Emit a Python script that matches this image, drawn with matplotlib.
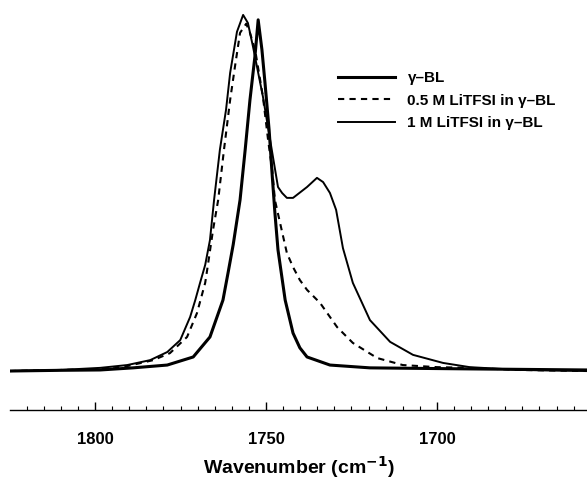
import matplotlib

matplotlib.use("Agg")
import matplotlib.pyplot as plt
from matplotlib.ticker import MultipleLocator

plt.rcParams["font.family"] = ["Liberation Sans", "DejaVu Sans"]

# C=O stretch band, absorbance normalised to the gamma-BL peak
wn_gbl = [1824.9, 1810.2, 1798.5, 1788.9, 1778.9, 1771.3, 1766.4, 1762.6, 1761.1,
          1759.6, 1757.6, 1756.1, 1754.7, 1753.2, 1752.3, 1751.2, 1750.3, 1749.1,
          1748.2, 1747.4, 1746.5, 1744.4, 1742.1, 1740.1, 1738.0, 1731.3, 1719.6,
          1690.4, 1656.1]
a_gbl = [0.0, 0.002, 0.003, 0.009, 0.017, 0.040, 0.097, 0.202, 0.280,
         0.360, 0.487, 0.630, 0.772, 0.900, 1.0, 0.915, 0.820, 0.687,
         0.558, 0.450, 0.345, 0.202, 0.108, 0.066, 0.040, 0.017, 0.009,
         0.006, 0.003]

wn_05m = [1824.9, 1795.6, 1790.6, 1783.0, 1778.1, 1773.1, 1770.2, 1767.8, 1767.0,
          1765.5, 1764.0, 1762.3, 1760.5, 1759.1, 1757.6, 1755.8, 1754.7, 1753.2,
          1750.9, 1749.4, 1748.2, 1747.4, 1745.9, 1743.9, 1742.1, 1740.1, 1738.0,
          1734.2, 1729.2, 1724.6, 1717.5, 1710.0, 1700.0, 1690.4, 1675.7, 1656.1]
a_05m = [0.0, 0.006, 0.014, 0.031, 0.051, 0.097, 0.165, 0.251, 0.302,
         0.402, 0.487, 0.630, 0.772, 0.866, 0.963, 0.989, 0.963, 0.915,
         0.781, 0.658, 0.573, 0.487, 0.422, 0.336, 0.296, 0.259, 0.231,
         0.194, 0.125, 0.080, 0.037, 0.017, 0.011, 0.009, 0.003, 0.0]

wn_1m = [1824.9, 1810.2, 1798.5, 1790.6, 1783.9, 1778.9, 1775.1, 1772.2, 1770.7,
         1769.3, 1767.8, 1766.4, 1765.2, 1763.5, 1761.7, 1760.5, 1758.5, 1756.7,
         1755.3, 1753.8, 1750.9, 1748.8, 1746.5, 1745.3, 1743.9, 1742.1, 1738.0,
         1735.1, 1733.3, 1731.3, 1729.5, 1727.5, 1724.6, 1719.6, 1713.7, 1707.0,
         1698.2, 1690.4, 1675.7, 1656.1]
a_1m = [0.0, 0.003, 0.009, 0.017, 0.031, 0.054, 0.088, 0.154, 0.202,
        0.251, 0.302, 0.373, 0.487, 0.630, 0.744, 0.849, 0.966, 1.014,
        0.991, 0.923, 0.781, 0.658, 0.524, 0.507, 0.493, 0.493, 0.524,
        0.550, 0.538, 0.507, 0.459, 0.350, 0.251, 0.145, 0.083, 0.046,
        0.023, 0.011, 0.003, 0.0]

labels = ["γ–BL", "0.5 M LiTFSI in γ–BL", "1 M LiTFSI in γ–BL"]

fig = plt.figure(figsize=(5.87, 4.79), dpi=100)
ax = fig.add_axes([10 / 587, 69 / 479, 577 / 587, 400 / 479])

ax.plot(wn_gbl, a_gbl, color="black", lw=2.2, label=labels[0])
ax.plot(wn_05m, a_05m, color="black", lw=1.5, dashes=(3, 2.5), label=labels[1])
ax.plot(wn_1m, a_1m, color="black", lw=1.4, label=labels[2])

ax.set_xlim(1824.9, 1656.1)
ax.set_ylim(-0.111, 1.028)

for side in ("top", "left", "right"):
    ax.spines[side].set_visible(False)
ax.spines["bottom"].set_linewidth(1.0)
ax.set_yticks([])
ax.xaxis.set_major_locator(MultipleLocator(50))
ax.xaxis.set_minor_locator(MultipleLocator(5))
ax.tick_params(axis="x", which="major", direction="in", length=6, width=1.0,
               pad=16, labelsize=12)
ax.tick_params(axis="x", which="minor", direction="in", length=3, width=0.8)
for t in ax.get_xticklabels():
    t.set_fontweight("bold")
ax.set_xlabel("Wavenumber (cm$^{\\mathbf{-1}}$)", fontsize=14, fontweight="bold",
              labelpad=5)

leg = ax.legend(loc="upper left", bbox_to_anchor=(0.5446, 0.881), frameon=False,
                handlelength=3.7, handletextpad=0.85, labelspacing=0.55,
                prop={"weight": "bold", "size": 11})

fig.savefig("out.png", dpi=100)
